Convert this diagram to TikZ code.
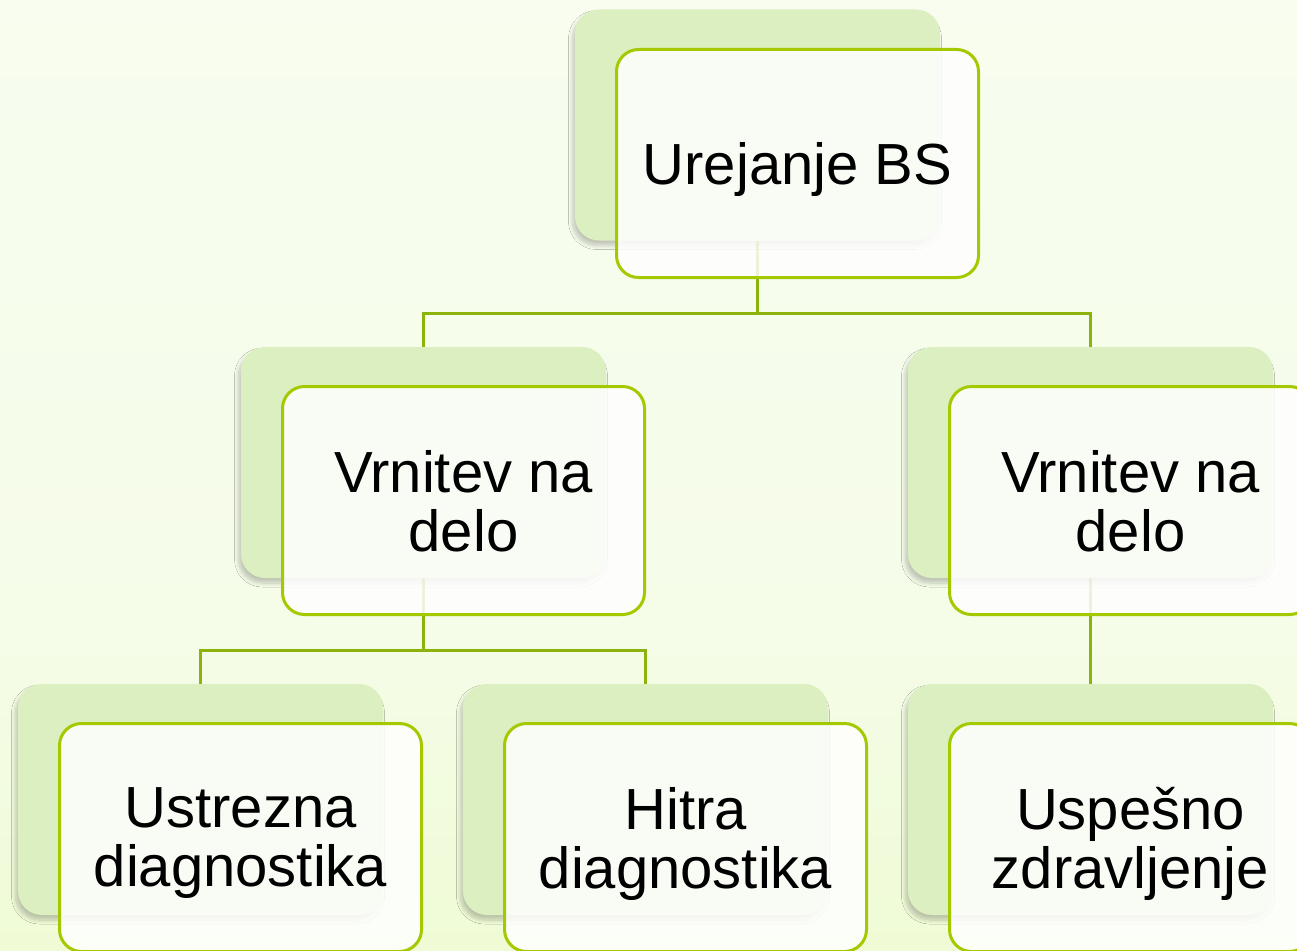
\documentclass[tikz,border=0pt]{standalone}
\usepackage{fontspec}
\setmainfont{Liberation Sans}
\usetikzlibrary{shadows.blur}
\definecolor{bgtop}{HTML}{FAFEF4}
\definecolor{bgmid}{HTML}{F5FCE8}
\definecolor{bglow}{HTML}{EEFBD0}
\definecolor{bgbot}{HTML}{E0F79C}
\definecolor{backfill}{HTML}{DCEFC0}
\definecolor{frontline}{HTML}{A4C900}
\definecolor{connline}{HTML}{8CB30A}
\pgfdeclareverticalshading{bgshade}{100bp}{color(0bp)=(bgbot); color(20bp)=(bglow); color(42bp)=(bgmid); color(100bp)=(bgtop)}
\tikzset{
  backbox/.style={draw=none, fill=backfill, rounded corners=24pt,
    minimum width=365pt, minimum height=231pt, inner sep=0pt,
    blur shadow={shadow xshift=-2.5pt, shadow yshift=-5pt, shadow blur steps=8, shadow opacity=22, shadow blur radius=4pt}},
  frontbox/.style={draw=frontline, line width=3pt, fill=white, fill opacity=0.85, text opacity=1,
    rounded corners=22pt, minimum width=362pt, minimum height=228pt, inner sep=0pt,
    align=center, text depth=0pt, font=\fontsize{58}{59}\selectfont},
  conn/.style={draw=connline, line width=3pt}
}
\begin{document}
\begin{tikzpicture}[x=1pt,y=-1pt]
\useasboundingbox (0,0) rectangle (1297,950);
\clip (0,0) rectangle (1297,950);
\shade[shading=bgshade] (0,0) rectangle (1297,950);
% back box positions
\path
  (757.5,125) coordinate (pb0)
  (423.5,462.5) coordinate (pb1)
  (1090.5,462.5) coordinate (pb2)
  (200.5,799.5) coordinate (pb3)
  (645.5,799.5) coordinate (pb4)
  (1090.5,799.5) coordinate (pb5);
% connector ends (drawn first, behind boxes)
\coordinate (c0) at (757.5,240.5);
\coordinate (c1t) at (423.5,347);
\coordinate (c2t) at (1090.5,347);
\coordinate (c1b) at (423.5,578);
\coordinate (c2b) at (1090.5,578);
\coordinate (c3t) at (200.5,684);
\coordinate (c4t) at (645.5,684);
\coordinate (c5t) at (1090.5,684);
\draw[conn] (c0) -- ++(0,72.5) -| (c1t);
\draw[conn] (c0) -- ++(0,72.5) -| (c2t);
\draw[conn] (c1b) -- ++(0,72) -| (c3t);
\draw[conn] (c1b) -- ++(0,72) -| (c4t);
\draw[conn] (c2b) -- (c5t);
% level 1
\node[backbox] (b0) at (pb0) {};
\node[frontbox] (f0) at (797.5,163.5) {Urejanje BS};
% level 2
\node[backbox] (b1) at (pb1) {};
\node[frontbox] (f1) at (463.5,500.5) {Vrnitev na\\delo};
\node[backbox] (b2) at (pb2) {};
\node[frontbox] (f2) at (1130.5,500.5) {Vrnitev na\\delo};
% level 3
\node[backbox] (b3) at (pb3) {};
\node[frontbox] (f3) at (240.5,837.5) {Ustrezna\\diagnostika};
\node[backbox] (b4) at (pb4) {};
\node[frontbox] (f4) at (685.5,837.5) {Hitra\\diagnostika};
\node[backbox] (b5) at (pb5) {};
\node[frontbox] (f5) at (1130.5,837.5) {Uspešno\\zdravljenje};
\end{tikzpicture}
\end{document}
